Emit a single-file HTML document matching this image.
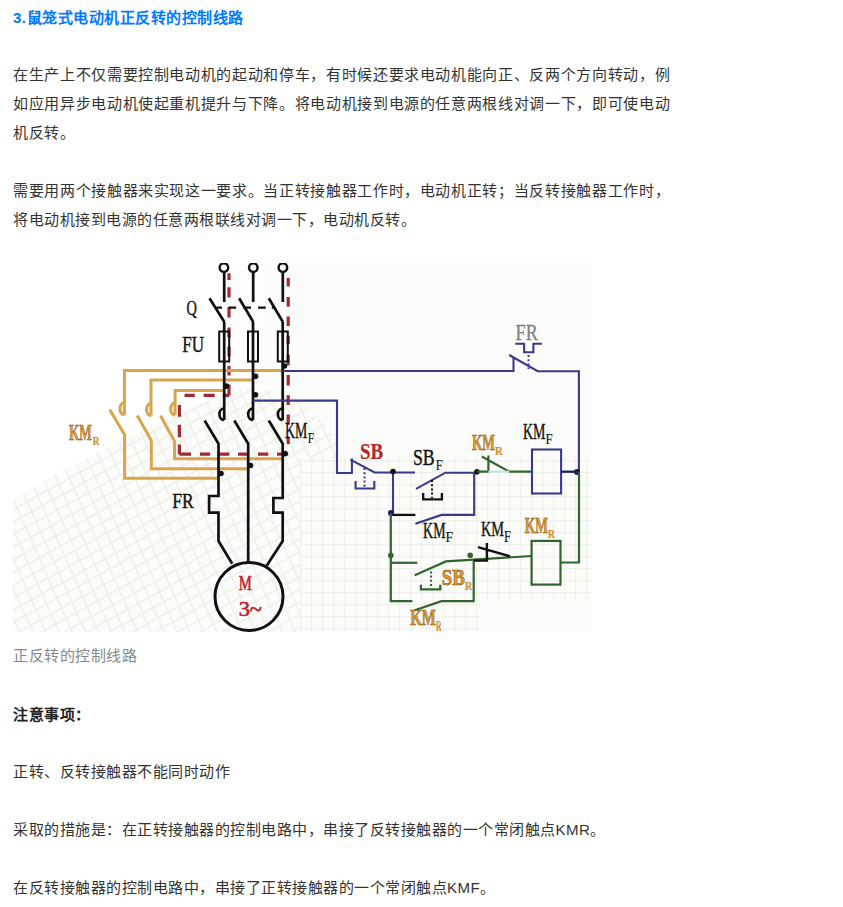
<!DOCTYPE html>
<html lang="zh-CN"><head><meta charset="utf-8">
<style>
html,body{margin:0;padding:0;background:#fff;}
body{width:843px;height:907px;overflow:hidden;position:relative;font-family:"Liberation Sans",sans-serif;color:#333;}
.t{position:absolute;left:13px;white-space:nowrap;font-size:15px;line-height:29px;letter-spacing:0.5px;}
.j{width:657px;text-align:justify;text-align-last:justify;white-space:normal;}
.h{color:#007aff;font-weight:bold;letter-spacing:0.5px;}
.c{color:#888;}
.b{font-weight:bold;color:#222;}
svg{position:absolute;left:0;top:0;}
</style></head><body>
<div class="t h" style="top:3px">3.鼠笼式电动机正反转的控制线路</div>
<div class="t j" style="top:60px">在生产上不仅需要控制电动机的起动和停车，有时候还要求电动机能向正、反两个方向转动，例</div>
<div class="t j" style="top:89px">如应用异步电动机使起重机提升与下降。将电动机接到电源的任意两根线对调一下，即可使电动</div>
<div class="t" style="top:118px">机反转。</div>
<div class="t j" style="top:176px">需要用两个接触器来实现这一要求。当正转接触器工作时，电动机正转；当反转接触器工作时，</div>
<div class="t" style="top:205px">将电动机接到电源的任意两根联线对调一下，电动机反转。</div>
<div class="t c" style="top:641px">正反转的控制线路</div>
<div class="t b" style="top:700px">注意事项：</div>
<div class="t" style="top:757px">正转、反转接触器不能同时动作</div>
<div class="t" style="top:815px">采取的措施是：在正转接触器的控制电路中，串接了反转接触器的一个常闭触点KMR。</div>
<div class="t" style="top:873px">在反转接触器的控制电路中，串接了正转接触器的一个常闭触点KMF。</div>
<svg width="843" height="907" viewBox="0 0 843 907" style="position:absolute;left:0;top:0">
<defs>
<linearGradient id="tint" x1="0" y1="0" x2="1" y2="0"><stop offset="0" stop-color="#fbfcf9" stop-opacity="0"/><stop offset="0.3" stop-color="#fbfcf9" stop-opacity="1"/><stop offset="1" stop-color="#fbfcf9"/></linearGradient>
<pattern id="pA" width="40" height="11" patternUnits="userSpaceOnUse" patternTransform="rotate(-29)"><rect width="40" height="1.6" fill="#efefea"/></pattern>
<pattern id="pB" width="12" height="40" patternUnits="userSpaceOnUse" patternTransform="rotate(-24)"><rect width="1.6" height="40" fill="#efefea"/></pattern>
<pattern id="pH" width="40" height="12" patternUnits="userSpaceOnUse"><rect y="4" width="40" height="1.4" fill="#f1f1ec"/></pattern>
<pattern id="pV" width="11" height="40" patternUnits="userSpaceOnUse"><rect x="3" width="1.4" height="40" fill="#f2f2ed"/></pattern>
<clipPath id="meshL"><path d="M13,500 Q60,470 100,452 L180,412 L240,388 L290,392 L330,430 L340,452 L300,632 L13,632Z"/></clipPath>
<clipPath id="meshR"><path d="M300,458 L591,458 L591,600 L480,600 L480,632 L300,632Z"/></clipPath>
<clipPath id="img"><rect x="13" y="263" width="578" height="369"/></clipPath>
</defs>
<g clip-path="url(#img)">
<rect x="13" y="263" width="578" height="369" fill="#fff"/><rect x="200" y="263" width="391" height="369" fill="url(#tint)"/>
<g id="grid">
<g clip-path="url(#meshL)"><rect x="13" y="380" width="350" height="252" fill="#fcfcfa"/><rect x="13" y="380" width="350" height="252" fill="url(#pA)"/><rect x="13" y="380" width="350" height="252" fill="url(#pB)"/></g>
<g clip-path="url(#meshR)"><rect x="300" y="458" width="291" height="174" fill="#fcfcfa"/><rect x="300" y="458" width="291" height="174" fill="url(#pH)"/><rect x="300" y="458" width="291" height="174" fill="url(#pV)"/></g>
</g>

<!-- red dashed loop -->
<path d="M229,273.2V279.9M229,287.3V297.5M229,307.3V317.5M229,327.4V337.5M229,346.5V356.5M229,366V375.6M229,384.5V395.4M222.8,395.4H229M203.6,395.4H214.7M184.5,395.4H194.8M179.4,404.9V416.7M179.4,424.8V437.3M179.4,444.6V454.2M179.4,454.2H191.1M200,454.2H210.2M217.8,454.2H229.3M238,454.2H248.6M258,454.2H268.2M277,454.2H288.2M288.2,277.9V286.4M288.2,297V306.8M288.2,316.4V326M288.2,335.7V344.1M288.2,354.7V365.3M288.2,375V385.6M288.2,395.3V405M288.2,414.5V424.8M288.2,436.5V443.9" fill="none" stroke="#a22a35" stroke-width="3.2"/>

<!-- orange loops -->
<g fill="none" stroke="#d8a54c" stroke-width="3">
<path d="M282.7,370.6 H124.4 V415"/>
<path d="M124.4,402.5 A4.5,6.25 0 0 0 124.4,415"/>
<path d="M109.8,409.8 L124.6,434.7 V478.3 H218.5"/>
<path d="M253,380.1 H151 V415.6"/>
<path d="M151,403.5 A4.5,6.05 0 0 0 151,415.6"/>
<path d="M137.2,415.6 L151.3,440.5 V468.8 H248.2"/>
<path d="M224.2,390.5 H175.1 V415"/>
<path d="M175.1,403 A4.5,6.00 0 0 0 175.1,415"/>
<path d="M160.5,415.6 L174.6,441.4 V458.8 H282.7"/>
</g>

<!-- main circuit black -->
<g fill="none" stroke="#111" stroke-width="2.7">
<circle cx="223.9" cy="267.6" r="4.3" stroke-width="2.4"/>
<circle cx="253.3" cy="267.6" r="4.3" stroke-width="2.4"/>
<circle cx="282.9" cy="267.6" r="4.3" stroke-width="2.4"/>
<path d="M224.2,272 V302 M209.5,298.3 L224.4,322 M224.2,322 V420 M204.6,420.5 L218.5,443.7 V496 H209.1 V512.7 H218.5 V541 L232.2,563.7"/>
<path d="M253.2,272 V302 M239.1,298.3 L253.3,322 M253,322 V420 M234.3,420.5 L248.2,443.7 V562"/>
<path d="M282.8,272 V302 M268.8,298.3 L282.9,322 M282.7,322 V420 M268.8,420.5 L282.7,443.7 V498 H273.4 V512.7 H282.7 V541 L266.8,565.6"/>
<path d="M224.2,408.5 A4.8,5.75 0 0 0 224.2,420 M253,408.5 A4.8,5.75 0 0 0 253,420 M282.7,408.5 A4.8,5.75 0 0 0 282.7,420"/>
<path d="M216.6,307.6H221.9M228.5,307.6H236.2M243.3,307.6H251M258.1,307.6H265.8M271.8,307.6H273.5" stroke-width="2.4"/>
<rect x="219.2" y="331.5" width="10" height="30" stroke-width="2"/>
<rect x="248" y="331.5" width="10" height="30" stroke-width="2"/>
<rect x="277.8" y="331.5" width="10" height="30" stroke-width="2"/>
<circle cx="249" cy="596.5" r="34" stroke-width="3"/>
</g>
<g fill="#111">
<circle cx="284.5" cy="366" r="2.8"/>
<circle cx="255.5" cy="376.2" r="2.8"/>
<circle cx="226.4" cy="386.1" r="2.8"/>
<circle cx="255.5" cy="394.7" r="2.8"/>
<circle cx="285" cy="453.6" r="2.8"/>
<circle cx="250.5" cy="465.5" r="2.8"/>
<circle cx="221" cy="473.5" r="2.8"/>
</g>

<!-- blue control -->
<g fill="none" stroke="#3c3a88" stroke-width="2.1">
<path d="M282.7,371 H513.5 V357 M509.2,355 L537.7,371.2 H578.9 V472"/>
<path d="M515.3,343.7 H524.1 V352.3 H533.4 V343.7 H541.9"/>
<path d="M528.5,355 V369" stroke-dasharray="2 2.2" stroke-width="2"/>
<path d="M253,400.6 H337 V473 H351.9 V458.5 M350.4,459.6 L374.6,472.5 H415"/>
<path d="M364.5,468 V487" stroke-dasharray="2 2.2" stroke-width="2"/>
<path d="M355.6,481 V488.5 H374.3 V481"/>
<path d="M393,472.7 V512.8"/>
<path d="M416,488.8 L445.4,472.7 H477"/>
<path d="M415.4,523.8 L441.5,514.9 H474.2 V471.7"/>
<rect x="532" y="449.5" width="29.1" height="44"/>
</g>
<g fill="none" stroke="#111" stroke-width="2.3">
<path d="M391,514.9 H415.4"/>
<path d="M432,480 V498" stroke-dasharray="2 2.2" stroke-width="2"/>
<path d="M423.2,493 V499.4 H441.9 V493"/>
<path d="M561.1,471.7 H579.5" stroke="#1d1d5a"/>
</g>
<g fill="#1d1d5a">
<circle cx="393" cy="471.5" r="2.8" fill="#111"/>
<circle cx="391" cy="513" r="3"/>
<circle cx="477" cy="471.7" r="2.8" fill="#111"/>
<circle cx="577" cy="472" r="3"/>
</g>

<!-- green control -->
<g fill="none" stroke="#31642f" stroke-width="2.2">
<path d="M477,471.7 H488.4 V455.5 M481.8,456.5 L509.3,471.7 H532"/>
<path d="M579,472 V562.5 H560.5"/>
<path d="M390.8,513 V601.2 H412.4"/>
<path d="M390.8,562.8 H417.3"/>
<path d="M414.7,575.2 L446,561.4 L531.6,556"/>
<path d="M473.7,560.6 V601.2 H441.5 L414.7,610.2"/>
<path d="M431,571.4 V586.3" stroke-dasharray="2 2.2" stroke-width="2"/>
<path d="M420.9,584.8 V589.3 H440.3 V584.8"/>
<rect x="531.6" y="540.9" width="28.9" height="43.7"/>
</g>
<path d="M488.4,471.7 H509.3" stroke="#b8e6e6" stroke-width="2" fill="none"/>
<g fill="#31642f">
<circle cx="390.8" cy="555.4" r="2.8"/>
<circle cx="470.2" cy="555.2" r="2.8"/>
</g>
<g fill="none" stroke="#111" stroke-width="2.4">
<path d="M473.8,560.6 H486.9 V543 M478,547.2 L510,556.3"/>
</g>

<!-- labels -->
<g font-family="Liberation Serif" fill="#111" stroke="#111" stroke-width="0.4">
<text x="186.5" y="315" font-size="21.2" textLength="10.4" lengthAdjust="spacingAndGlyphs">Q</text>
<text x="182.2" y="351.5" font-size="23.4" textLength="21.8" lengthAdjust="spacingAndGlyphs">FU</text>
<text x="285" y="437.5" font-size="23.5" textLength="22.3" lengthAdjust="spacingAndGlyphs">KM</text>
<text x="307.8" y="442.5" font-size="15" textLength="6.4" lengthAdjust="spacingAndGlyphs" stroke-width="0.15">F</text>
<text x="172.2" y="508.4" font-size="21.4" textLength="21.5" lengthAdjust="spacingAndGlyphs">FR</text>
<text x="413" y="464.6" font-size="22.6" textLength="21.7" lengthAdjust="spacingAndGlyphs">SB</text>
<text x="435.8" y="470" font-size="13.7" textLength="6.9" lengthAdjust="spacingAndGlyphs" stroke-width="0.15">F</text>
<text x="522.9" y="438.7" font-size="23.5" textLength="22.5" lengthAdjust="spacingAndGlyphs">KM</text>
<text x="545.4" y="443.5" font-size="13.6" textLength="7.1" lengthAdjust="spacingAndGlyphs" stroke-width="0.15">F</text>
<text x="423.1" y="538" font-size="22.7" textLength="22.4" lengthAdjust="spacingAndGlyphs">KM</text>
<text x="445.5" y="542.4" font-size="15.2" textLength="7.5" lengthAdjust="spacingAndGlyphs" stroke-width="0.15">F</text>
<text x="481" y="536.2" font-size="22" textLength="23" lengthAdjust="spacingAndGlyphs">KM</text>
<text x="504" y="541.8" font-size="16" textLength="6.9" lengthAdjust="spacingAndGlyphs" stroke-width="0.15">F</text>
</g>
<text x="515.6" y="339.9" font-family="Liberation Serif" font-size="22.7" fill="#7f7f7f" stroke="#7f7f7f" stroke-width="0.3" textLength="22.1" lengthAdjust="spacingAndGlyphs">FR</text>
<g font-family="Liberation Serif" fill="#b82228" stroke="#b82228" stroke-width="0.6">
<text x="360" y="459.4" font-size="23" textLength="23.2" lengthAdjust="spacingAndGlyphs" font-weight="bold" stroke-width="0.2">SB</text>
<text x="238.7" y="590" font-size="21.5" textLength="13.1" lengthAdjust="spacingAndGlyphs">M</text>
<text x="238.7" y="616.2" font-size="21" textLength="23.3" lengthAdjust="spacingAndGlyphs">3~</text>
</g>
<g font-family="Liberation Serif" fill="#e29a36" stroke="#6e4a14" stroke-width="0.55" font-weight="bold">
<text x="69" y="439.9" font-size="22.8" textLength="22.9" lengthAdjust="spacingAndGlyphs">KM</text>
<text x="92.4" y="444.9" font-size="12.7" textLength="7" lengthAdjust="spacingAndGlyphs" stroke-width="0.15">R</text>
<text x="471.9" y="450" font-size="22.9" textLength="23.1" lengthAdjust="spacingAndGlyphs">KM</text>
<text x="495" y="454.7" font-size="11.8" textLength="7.7" lengthAdjust="spacingAndGlyphs" stroke-width="0.15">R</text>
<text x="524.7" y="533.2" font-size="23.2" textLength="23.1" lengthAdjust="spacingAndGlyphs">KM</text>
<text x="547.8" y="537.8" font-size="12.5" textLength="7.2" lengthAdjust="spacingAndGlyphs" stroke-width="0.15">R</text>
<text x="441.7" y="584.5" font-size="22.1" textLength="23.1" lengthAdjust="spacingAndGlyphs">SB</text>
<text x="464.8" y="589.8" font-size="12.5" textLength="7.7" lengthAdjust="spacingAndGlyphs" stroke-width="0.15">R</text>
<text x="410.2" y="625.4" font-size="22.1" textLength="25.6" lengthAdjust="spacingAndGlyphs">KM</text>
<text x="435.8" y="630.7" font-size="14.2" textLength="6" lengthAdjust="spacingAndGlyphs" stroke-width="0.15">R</text>
</g>
</g>
</svg>
</body></html>
